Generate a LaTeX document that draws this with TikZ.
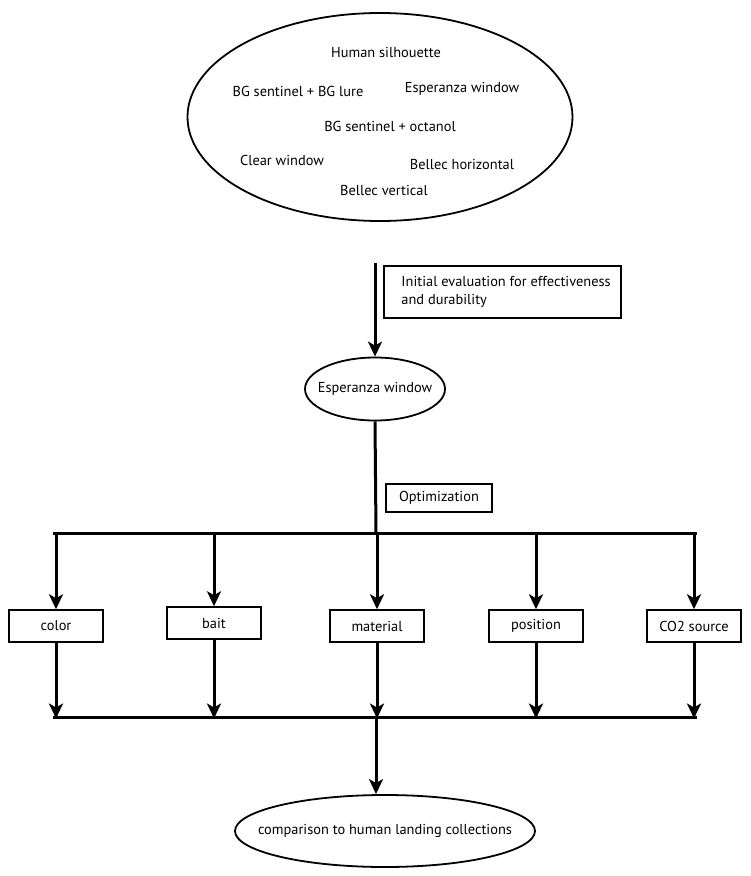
\documentclass[tikz,border=0pt]{standalone}
\usepackage{fontspec}
\setmainfont{PT Sans}
\usetikzlibrary{shapes.geometric,arrows.meta}
\begin{document}
\begin{tikzpicture}[x=1pt,y=-1pt,
  every node/.style={font=\fontsize{14.4}{18}\selectfont, inner sep=0pt},
  oval/.style={draw, ellipse, line width=1.8pt},
  box/.style={draw, rectangle, line width=1.5pt},
  bbox/.style={box, minimum width=94, minimum height=32},
  thick3/.style={line width=3pt},
  arr/.style={line width=3pt, -{Stealth[length=15pt, width=14pt, inset=4pt]}}]
\useasboundingbox (0,0) rectangle (751,876);
% top ellipse
\node[oval, minimum width=385, minimum height=208] (top) at (380,117) {};
\node (t1) at (386,52) {Human silhouette};
\node (t2) at (298,91) {BG sentinel + BG lure};
\node (t3) at (462,89) {Esperanza window};
\node (t4) at (390,126) {BG sentinel + octanol};
\node (t5) at (282,160) {Clear window};
\node (t6) at (462,164) {Bellec horizontal};
\node (t7) at (384,190) {Bellec vertical};
% first arrow
\coordinate (a1) at (375,263);
\node[oval, minimum width=140, minimum height=63] (esp) at (375,389) {};
\node (espt) at (esp.center) {Esperanza window};
\draw[arr] (a1) -- (esp.north);
\node[box, minimum width=237, minimum height=52] (init) at (502.5,292) {};
\node[anchor=west, align=left] (initt) at ([xshift=18pt]init.west) {Initial evaluation for effectiveness\\and durability};
% optimization
\coordinate (j1) at (376,533);
\draw[thick3] (esp.south) -- (j1);
\node[box, minimum width=106, minimum height=28] (opt) at (439,498) {Optimization};
\coordinate (bl) at (53,533);
\coordinate (br) at (697,533);
\draw[thick3] (bl) -- (br);
% branch boxes
\node[bbox] (color) at (56,626) {color};
\node[bbox] (bait) at (214,623) {bait};
\node[bbox] (mat) at (377,626) {material};
\node[bbox] (pos) at (536,626) {position};
\node[bbox] (co2) at (694,626) {CO2 source};
\foreach \n in {color,bait,mat,pos,co2}{
  \coordinate (u\n) at (\n.north |- bl);
  \coordinate (d\n) at ([yshift=-1.5pt]\n.south |- 0,717);
  \draw[arr] (u\n) -- (\n.north);
  \draw[arr] (\n.south) -- (d\n);
}
\coordinate (cl) at (53,717);
\coordinate (cr) at (697,717);
\draw[thick3] (cl) -- (cr);
\coordinate (j2) at (376,717);
\node[oval, minimum width=300, minimum height=72] (final) at (385,831) {};
\node (finalt) at (final.center) {comparison to human landing collections};
\draw[arr] (j2) -- (j2 |- final.north);
\end{tikzpicture}
\end{document}
